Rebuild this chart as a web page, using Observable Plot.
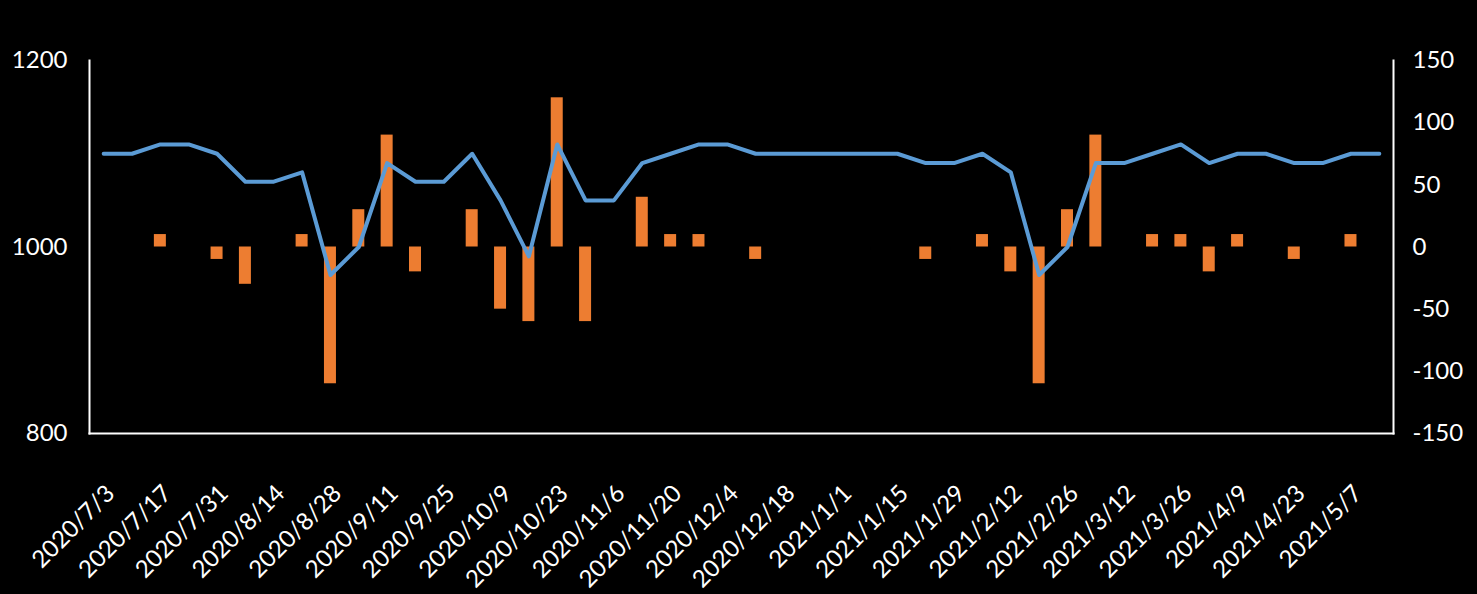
<!DOCTYPE html>
<html>
<head>
<meta charset="utf-8">
<script src="https://cdn.jsdelivr.net/npm/d3@7"></script>
<script src="https://cdn.jsdelivr.net/npm/@observablehq/plot@0.6"></script>
<style>
  html, body { margin: 0; padding: 0; background: #000; }
  #chart { width: 1477px; height: 594px; }
</style>
</head>
<body>
<div id="chart"></div>
<script>
// Weekly dates (categories)
const dates = [
  "2020/7/3","2020/7/10","2020/7/17","2020/7/24","2020/7/31","2020/8/7","2020/8/14","2020/8/21",
  "2020/8/28","2020/9/4","2020/9/11","2020/9/18","2020/9/25","2020/10/2","2020/10/9","2020/10/16",
  "2020/10/23","2020/10/30","2020/11/6","2020/11/13","2020/11/20","2020/11/27","2020/12/4","2020/12/11",
  "2020/12/18","2020/12/25","2021/1/1","2021/1/8","2021/1/15","2021/1/22","2021/1/29","2021/2/5",
  "2021/2/12","2021/2/19","2021/2/26","2021/3/5","2021/3/12","2021/3/19","2021/3/26","2021/4/2",
  "2021/4/9","2021/4/16","2021/4/23","2021/4/30","2021/5/7","2021/5/14"
];
// Line series (left axis)
const level = [
  1100,1100,1110,1110,1100,1070,1070,1080,970,1000,
  1090,1070,1070,1100,1050,990,1110,1050,1050,1090,
  1100,1110,1110,1100,1100,1100,1100,1100,1100,1090,
  1090,1100,1080,970,1000,1090,1090,1100,1110,1090,
  1100,1100,1090,1090,1100,1100
];
// Bar series (right axis)
const change = [
  0,0,10,0,-10,-30,0,10,-110,30,
  90,-20,0,30,-50,-60,120,-60,0,40,
  10,10,0,-10,0,0,0,0,0,-10,
  0,10,-20,-110,30,90,0,10,10,-20,
  10,0,-10,0,10,0
];
// Tick labels
const leftTicks = [800, 1000, 1200];
const rightTicks = [-150, -100, -50, 0, 50, 100, 150];
const xTickLabels = dates.filter((d, i) => i % 2 === 0);

const leftDomain = [800, 1200];
const rightDomain = [-150, 150];
const toLeft = v => leftDomain[0] + (v - rightDomain[0]) * (leftDomain[1] - leftDomain[0]) / (rightDomain[1] - rightDomain[0]);
const fromLeft = v => rightDomain[0] + (v - leftDomain[0]) * (rightDomain[1] - rightDomain[0]) / (leftDomain[1] - leftDomain[0]);

const rows = dates.map((d, i) => ({date: d, level: level[i], change: change[i], base: toLeft(0), top: toLeft(change[i])}));

const FONT = "Lato, 'Open Sans', sans-serif";

const chart = Plot.plot({
  width: 1477,
  height: 594,
  marginLeft: 89,
  marginRight: 84,
  marginTop: 60,
  marginBottom: 161,
  style: {background: "#000", color: "#fff", fontFamily: FONT, fontSize: "24px"},
  x: {type: "band", domain: dates, paddingInner: 0.577, paddingOuter: 0.2885, round: false},
  y: {domain: leftDomain},
  marks: [
    Plot.barY(rows.filter(r => r.change !== 0), {x: "date", y1: "base", y2: "top", fill: "#ED7D31"}),
    Plot.line(rows, {x: "date", y: "level", stroke: "#5B9BD5", strokeWidth: 4, strokeLinejoin: "round", strokeLinecap: "round"}),
    Plot.frame({anchor: "left", stroke: "#fff", strokeWidth: 2}),
    Plot.frame({anchor: "right", stroke: "#fff", strokeWidth: 2}),
    Plot.frame({anchor: "bottom", stroke: "#fff", strokeWidth: 2}),
    Plot.axisY({ticks: leftTicks, tickFormat: d => String(d), tickSize: 0, tickPadding: 22, label: null, fontSize: 24, fill: "#fff"}),
    Plot.axisY({anchor: "right", ticks: rightTicks.map(toLeft), tickFormat: d => String(Math.round(fromLeft(d))), tickSize: 0, tickPadding: 19, label: null, fontSize: 24, fill: "#fff"}),
    Plot.axisX({ticks: xTickLabels, tickRotate: -45, tickSize: 0, tickPadding: 56, dx: 7, label: null, fontSize: 24, fill: "#fff"})
  ]
});
document.getElementById("chart").appendChild(chart);
</script>
</body>
</html>
